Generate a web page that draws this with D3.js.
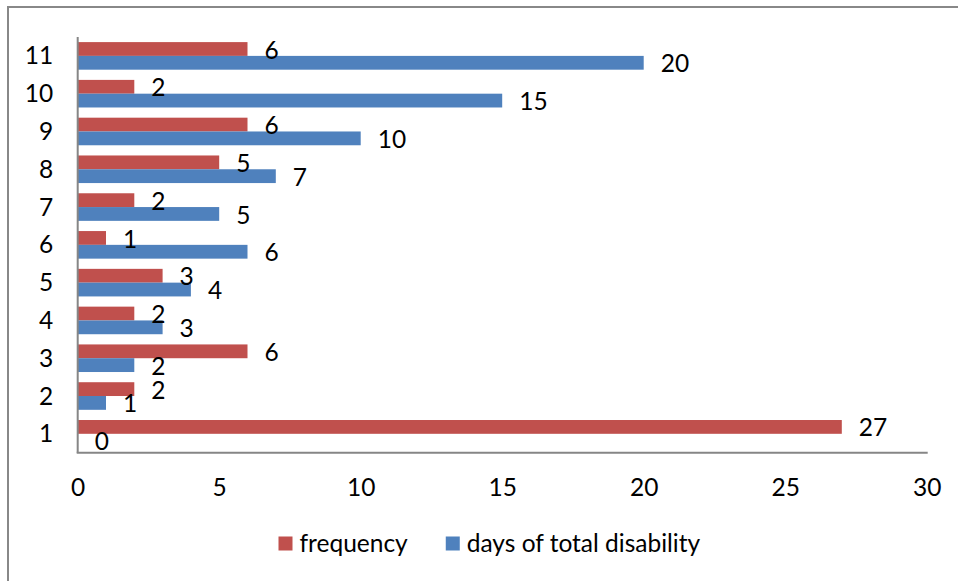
<!DOCTYPE html>
<html>
<head>
<meta charset="utf-8">
<script src="https://cdn.jsdelivr.net/npm/d3@7"></script>
<style>
  html, body { margin: 0; padding: 0; background: #fff; }
  svg { display: block; }
  text { font-family: Lato, "Open Sans", sans-serif; fill: #000; }
</style>
</head>
<body>
<svg id="chart" width="958" height="581"></svg>
<script>
// Categories listed bottom to top
const categories = ["1", "2", "3", "4", "5", "6", "7", "8", "9", "10", "11"];
const frequency = [27, 2, 6, 2, 3, 1, 2, 5, 6, 2, 6];
const daysOfTotalDisability = [0, 1, 2, 3, 4, 6, 5, 7, 10, 15, 20];
const xTicks = [0, 5, 10, 15, 20, 25, 30];
const seriesNames = ["frequency", "days of total disability"];
const seriesColors = ["#C0504D", "#4F81BD"];

const svg = d3.select("#chart");
const W = 958, H = 581;
const plot = { left: 77.7, right: 926.7, top: 37, bottom: 452.7 };
const fontSize = 24.5;

// Outer chart frame
svg.append("rect")
  .attr("x", 8).attr("y", 7)
  .attr("width", W + 20).attr("height", H + 20)
  .attr("fill", "none")
  .attr("stroke", "#888").attr("stroke-width", 2);

const x = d3.scaleLinear().domain([0, 30]).range([plot.left, plot.right]);
const y = d3.scaleBand().domain(categories.slice().reverse())
  .range([plot.top, plot.bottom]).padding(0);
const inner = d3.scaleBand().domain(seriesNames)
  .range([y.bandwidth() * 0.135, y.bandwidth() * 0.865]).padding(0);

const rows = categories.map((c, i) => ({
  cat: c,
  values: [frequency[i], daysOfTotalDisability[i]]
}));

// Bars
const groups = svg.append("g").selectAll("g.cat")
  .data(rows).join("g")
  .attr("class", "cat")
  .attr("transform", d => `translate(0,${y(d.cat)})`);

groups.selectAll("rect")
  .data(d => d.values.map((v, k) => ({ v, k })))
  .join("rect")
  .attr("x", x(0))
  .attr("y", d => inner(seriesNames[d.k]))
  .attr("width", d => x(d.v) - x(0))
  .attr("height", inner.bandwidth())
  .attr("fill", d => seriesColors[d.k]);

// Value labels
groups.selectAll("text.val")
  .data(d => d.values.map((v, k) => ({ v, k })))
  .join("text")
  .attr("class", "val")
  .attr("x", d => x(d.v) + 17)
  .attr("y", d => inner(seriesNames[d.k]) + inner.bandwidth() / 2 + 1)
  .attr("dy", "0.35em")
  .attr("font-size", fontSize)
  .text(d => d.v);

// Axes
const axisColor = "#868686";
svg.append("line")
  .attr("x1", x(0)).attr("x2", x(0))
  .attr("y1", plot.top).attr("y2", plot.bottom)
  .attr("stroke", axisColor).attr("stroke-width", 2);
svg.append("line")
  .attr("x1", x(0) - 1).attr("x2", plot.right + 1)
  .attr("y1", plot.bottom).attr("y2", plot.bottom)
  .attr("stroke", axisColor).attr("stroke-width", 2);

const xAxis = d3.axisBottom(x).tickValues(xTicks).tickSize(0).tickPadding(0);
const gx = svg.append("g")
  .attr("transform", `translate(0,${plot.bottom})`)
  .call(xAxis);
gx.select(".domain").remove();
gx.selectAll("text")
  .attr("y", 35).attr("dy", "0.35em")
  .attr("font-size", fontSize)
  .attr("font-family", "Lato, 'Open Sans', sans-serif")
  .attr("fill", "#000");

const yAxis = d3.axisLeft(y).tickSize(0).tickPadding(0);
const gy = svg.append("g")
  .attr("transform", `translate(${x(0)},0)`)
  .call(yAxis);
gy.select(".domain").remove();
gy.selectAll("text")
  .attr("x", -24.5).attr("dy", "0.35em")
  .attr("font-size", fontSize)
  .attr("font-family", "Lato, 'Open Sans', sans-serif")
  .attr("fill", "#000");

// Legend
const legend = svg.append("g").attr("transform", "translate(278.5,536.5)");
let cursor = 0;
seriesNames.forEach((name, k) => {
  const item = legend.append("g").attr("transform", `translate(${cursor},0)`);
  item.append("rect")
    .attr("width", 14).attr("height", 14)
    .attr("fill", seriesColors[k]);
  const t = item.append("text")
    .attr("x", 21).attr("y", 7).attr("dy", "0.35em")
    .attr("font-size", fontSize)
    .text(name);
  cursor += 21 + t.node().getComputedTextLength() + 38;
});
</script>
</body>
</html>
